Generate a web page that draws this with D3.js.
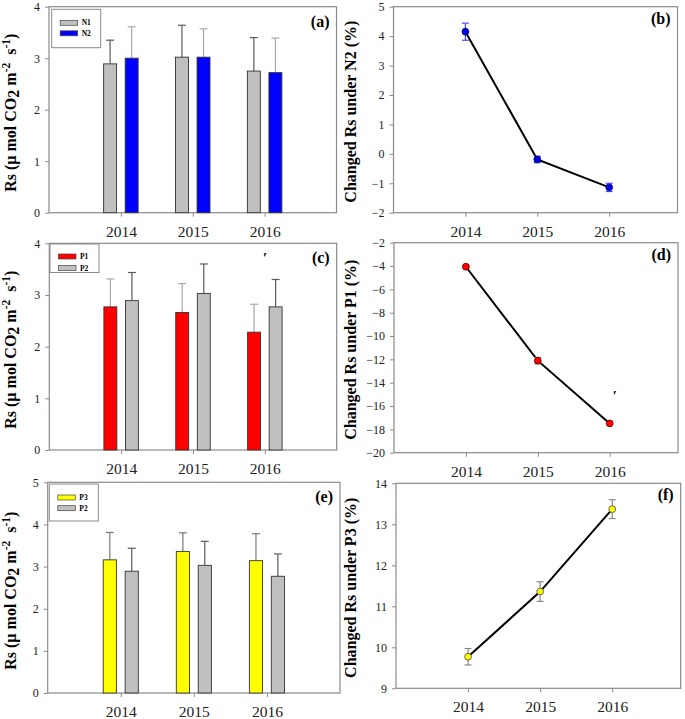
<!DOCTYPE html>
<html><head><meta charset="utf-8">
<script src="https://cdn.jsdelivr.net/npm/d3@7"></script>
<style>
html,body{margin:0;padding:0;background:#fff;}
svg{display:block;}
text{font-family:"Liberation Serif","Times New Roman",serif;}
</style></head>
<body>
<svg id="chart" width="685" height="719"></svg>
<script>
// ---------- data ----------
const years = [2014, 2015, 2016];

const n1Mean = [2.89, 3.02, 2.75];
const n1Err  = [0.46, 0.62, 0.65];
const n2Mean = [3.00, 3.02, 2.72];
const n2Err  = [0.61, 0.55, 0.67];

const p1Mean = [2.77, 2.66, 2.28];
const p1Err  = [0.54, 0.56, 0.54];
const p2Mean = [2.89, 3.03, 2.77];
const p2Err  = [0.545, 0.57, 0.53];
const p3Mean = [3.16, 3.36, 3.14];
const p3Err  = [0.65, 0.44, 0.64];

const chgN2    = [4.15, -0.19, -1.14];
const chgN2Err = [0.29, 0.11, 0.14];
const chgP1    = [-4.06, -12.11, -17.49];
const chgP1Err = [0.12, 0.28, 0.10];
const chgP3    = [9.77, 11.36, 13.37];
const chgP3Err = [0.20, 0.24, 0.23];

const ticksA = [0, 1, 2, 3, 4];
const ticksB = [-2, -1, 0, 1, 2, 3, 4, 5];
const ticksC = [0, 1, 2, 3, 4];
const ticksD = [-20, -18, -16, -14, -12, -10, -8, -6, -4, -2];
const ticksE = [0, 1, 2, 3, 4, 5];
const ticksF = [9, 10, 11, 12, 13, 14];

// ---------- drawing ----------
const svg = d3.select("#chart");
const FRAME = "#8a8a8a";
const SERIF = '"Liberation Serif","Times New Roman",serif';

function frameAndAxes(g, box, x, y, yTicks) {
  g.append("rect")
    .attr("x", box.left).attr("y", box.top)
    .attr("width", box.right - box.left).attr("height", box.bottom - box.top)
    .attr("fill", "none").attr("stroke", FRAME).attr("stroke-width", 1.2);
  const ax = g.append("g").attr("transform", `translate(0,${box.bottom})`)
    .call(d3.axisBottom(x).tickValues(years).tickFormat(d3.format("d")).tickSize(4).tickPadding(9));
  ax.select(".domain").remove();
  ax.selectAll("line").attr("stroke", FRAME);
  ax.selectAll("text").attr("font-size", 15.5).attr("fill", "#222").attr("font-family", SERIF);
  const ay = g.append("g").attr("transform", `translate(${box.left},0)`)
    .call(d3.axisLeft(y).tickValues(yTicks).tickFormat(d3.format("d")).tickSize(4).tickPadding(5));
  ay.select(".domain").remove();
  ay.selectAll("line").attr("stroke", FRAME);
  ay.selectAll("text").attr("font-size", 12).attr("fill", "#222").attr("font-family", SERIF);
}

function panelLabel(g, box, label, dy) {
  g.append("text").attr("x", box.right - 7).attr("y", box.top + dy)
    .attr("text-anchor", "end").attr("font-weight", "bold").attr("font-size", 16)
    .text(label);
}

function rsTitle(g, cx, cy) {
  const t = g.append("text").attr("transform", `translate(${cx},${cy}) rotate(-90)`)
    .attr("text-anchor", "middle").attr("font-weight", "bold").attr("font-size", 16);
  t.append("tspan").text("Rs (µ mol CO");
  t.append("tspan").attr("dy", 3).text("2");
  t.append("tspan").attr("dy", -3).text("\u00a0m");
  t.append("tspan").attr("dy", -6).attr("font-size", 11.5).text("-2");
  t.append("tspan").attr("dy", 6).text("\u00a0\u00a0s");
  t.append("tspan").attr("dy", -6).attr("font-size", 11.5).text("-1");
  t.append("tspan").attr("dy", 6).text(")");
}

function barPanel(cfg) {
  const box = cfg.box;
  const g = svg.append("g");
  const x = d3.scaleLinear().domain([2013, 2017]).range([box.left, box.right]);
  const y = d3.scaleLinear().domain(cfg.yDomain).range([box.bottom, box.top]);
  const unit = x(1) - x(0);
  const bw = unit * 0.18;
  const off = unit * 0.15;

  frameAndAxes(g, box, x, y, cfg.yTicks);

  cfg.series.forEach((s, si) => {
    const dx = si === 0 ? -off : off;
    years.forEach((yr, i) => {
      const cx = x(yr) + dx;
      const top = y(s.mean[i]);
      const et = y(s.mean[i] + s.err[i]);
      g.append("line").attr("x1", cx).attr("x2", cx).attr("y1", top).attr("y2", et)
        .attr("stroke", s.whisker).attr("stroke-width", 1.2);
      g.append("line").attr("x1", cx - 4).attr("x2", cx + 4).attr("y1", et).attr("y2", et)
        .attr("stroke", s.whisker).attr("stroke-width", 1.2);
      g.append("rect").attr("x", cx - bw / 2).attr("y", top)
        .attr("width", bw).attr("height", y(cfg.yDomain[0]) - top)
        .attr("fill", s.color).attr("stroke", "#333").attr("stroke-width", 0.9);
    });
  });

  // legend
  const L = cfg.legend;
  g.append("rect").attr("x", box.left + L.dx).attr("y", box.top + L.dy)
    .attr("width", 49).attr("height", L.h)
    .attr("fill", "#fff").attr("stroke", FRAME).attr("stroke-width", 1);
  cfg.series.forEach((s, si) => {
    const yy = box.top + L.dy + L.first + si * L.step;
    g.append("rect").attr("x", box.left + L.dx + 8.5).attr("y", yy)
      .attr("width", 17.5).attr("height", 5)
      .attr("fill", s.color).attr("stroke", "#444").attr("stroke-width", 0.7);
    g.append("text").attr("x", box.left + L.dx + 30).attr("y", yy + 5)
      .attr("font-size", 7.5).attr("font-weight", "bold").text(s.name);
  });

  panelLabel(g, box, cfg.label, 20);
  rsTitle(g, 16, (box.top + box.bottom) / 2 + 3);
  (cfg.marks || []).forEach(m => {
    g.append("text").attr("x", x(m.x)).attr("y", y(m.y)).attr("text-anchor", "middle")
      .attr("font-size", 15).attr("font-weight", "bold").attr("font-style", "italic").text("′");
  });
}

function linePanel(cfg) {
  const box = cfg.box;
  const g = svg.append("g");
  const x = d3.scaleLinear().domain([2013, 2016.95]).range([box.left, box.right]);
  const y = d3.scaleLinear().domain(cfg.yDomain).range([box.bottom, box.top]);
  frameAndAxes(g, box, x, y, cfg.yTicks);

  const pts = years.map((yr, i) => ({ yr, v: cfg.values[i], e: cfg.errs[i] }));
  g.append("path").datum(pts)
    .attr("d", d3.line().x(d => x(d.yr)).y(d => y(d.v)))
    .attr("fill", "none").attr("stroke", "#000").attr("stroke-width", 2);
  pts.forEach(d => {
    const cx = x(d.yr), y1 = y(d.v + d.e), y2 = y(d.v - d.e);
    g.append("line").attr("x1", cx).attr("x2", cx).attr("y1", y1).attr("y2", y2)
      .attr("stroke", cfg.errColor).attr("stroke-width", 1.2);
    [y1, y2].forEach(yy => g.append("line").attr("x1", cx - 3.5).attr("x2", cx + 3.5)
      .attr("y1", yy).attr("y2", yy).attr("stroke", cfg.errColor).attr("stroke-width", 1.2));
  });
  pts.forEach(d => {
    g.append("circle").attr("cx", x(d.yr)).attr("cy", y(d.v)).attr("r", 3.4)
      .attr("fill", cfg.color).attr("stroke", cfg.markStroke).attr("stroke-width", 0.8);
  });

  panelLabel(g, box, cfg.label, 17);
  g.append("text").attr("transform", `translate(356,${(box.top + box.bottom) / 2 + 2}) rotate(-90)`)
    .attr("text-anchor", "middle").attr("font-weight", "bold").attr("font-size", 16)
    .text(cfg.title);
  (cfg.marks || []).forEach(m => {
    g.append("text").attr("x", x(m.x)).attr("y", y(m.y)).attr("text-anchor", "middle")
      .attr("font-size", 15).attr("font-weight", "bold").attr("font-style", "italic").text("′");
  });
}

barPanel({
  box: { left: 49, top: 6.7, right: 336.5, bottom: 212.7 },
  yDomain: [0, 4], yTicks: ticksA, label: "(a)",
  legend: { dx: 2.7, dy: 2.6, h: 38.4, first: 11, step: 10.5 },
  series: [
    { name: "N1", mean: n1Mean, err: n1Err, color: "#c0c0c0", whisker: "#5a5a5a" },
    { name: "N2", mean: n2Mean, err: n2Err, color: "#0000ff", whisker: "#a8a8a8" }
  ]
});

linePanel({
  box: { left: 393.5, top: 6.7, right: 677.5, bottom: 212.7 },
  yDomain: [-2, 5], yTicks: ticksB, label: "(b)",
  values: chgN2, errs: chgN2Err, color: "#0000e0", markStroke: "#000066", errColor: "#4a4aff",
  title: "Changed Rs under N2 (%)"
});

barPanel({
  box: { left: 49.3, top: 243.3, right: 336.7, bottom: 450 },
  yDomain: [0, 4], yTicks: ticksC, label: "(c)",
  legend: { dx: 0.7, dy: 0.7, h: 28.5, first: 10, step: 11.5 },
  series: [
    { name: "P1", mean: p1Mean, err: p1Err, color: "#ff0000", whisker: "#a8a8a8" },
    { name: "P2", mean: p2Mean, err: p2Err, color: "#c0c0c0", whisker: "#5a5a5a" }
  ],
  marks: [{ x: 2016, y: 3.62 }]
});

linePanel({
  box: { left: 394, top: 242.7, right: 678, bottom: 452.7 },
  yDomain: [-20, -2], yTicks: ticksD, label: "(d)",
  values: chgP1, errs: chgP1Err, color: "#ff0000", markStroke: "#550000", errColor: "#909090",
  title: "Changed Rs under P1 (%)",
  marks: [{ x: 2016.07, y: -15.6 }]
});

barPanel({
  box: { left: 47.7, top: 482.3, right: 340, bottom: 693 },
  yDomain: [0, 5], yTicks: ticksE, label: "(e)",
  legend: { dx: 1.6, dy: 1.7, h: 37, first: 11, step: 10.7 },
  series: [
    { name: "P3", mean: p3Mean, err: p3Err, color: "#ffff00", whisker: "#7a7a7a" },
    { name: "P2", mean: p2Mean, err: p2Err, color: "#c0c0c0", whisker: "#5a5a5a" }
  ]
});

linePanel({
  box: { left: 396, top: 483.3, right: 680.7, bottom: 688.3 },
  yDomain: [9, 14], yTicks: ticksF, label: "(f)",
  values: chgP3, errs: chgP3Err, color: "#ffff00", markStroke: "#444", errColor: "#8a8a8a",
  title: "Changed Rs under P3 (%)"
});
</script>
</body></html>
